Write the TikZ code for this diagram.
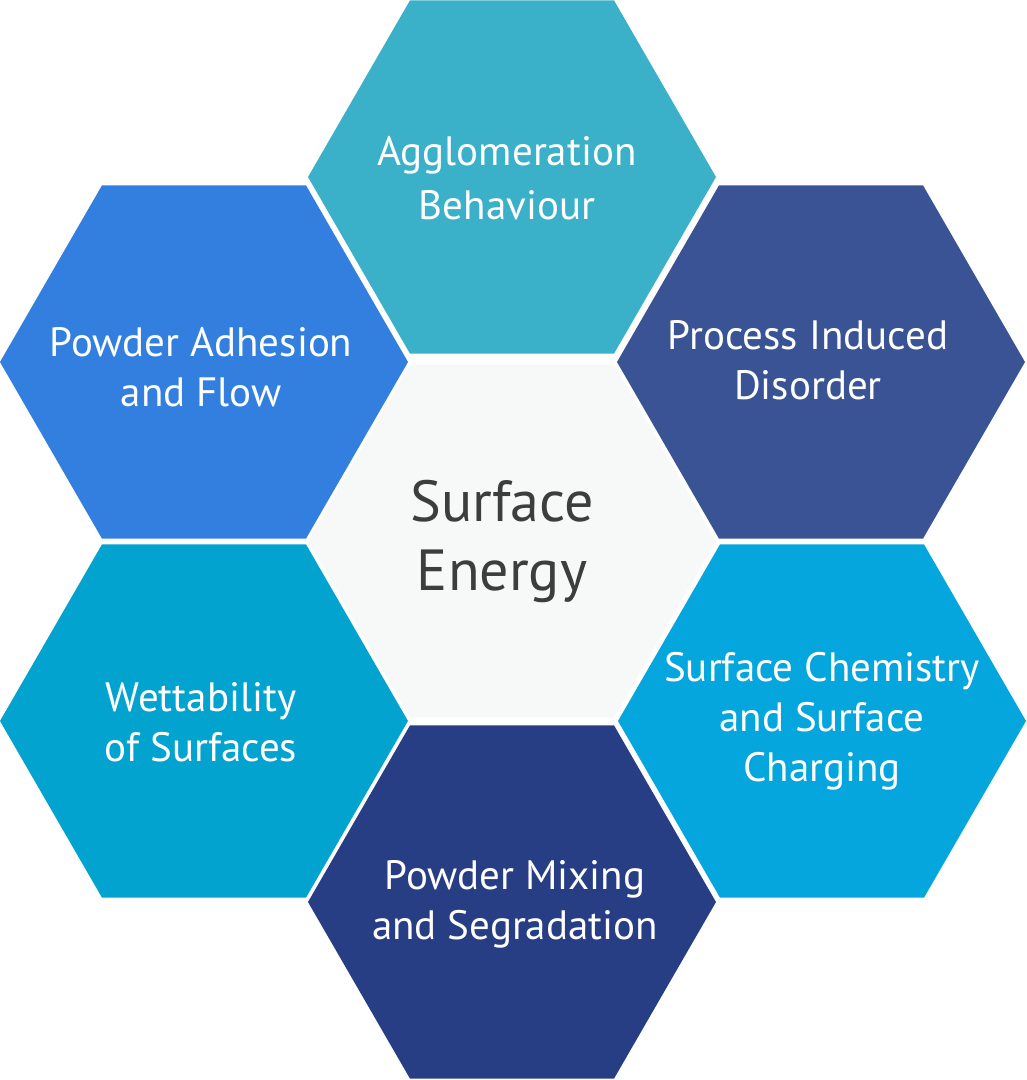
\documentclass[tikz,border=0pt]{standalone}
\usepackage{fontspec}
\setmainfont{PT Sans}
\usetikzlibrary{shapes.geometric}
\definecolor{agglo}{RGB}{59,176,201}
\definecolor{adhesion}{RGB}{50,127,224}
\definecolor{disorder}{RGB}{58,83,148}
\definecolor{energy}{RGB}{247,249,249}
\definecolor{wetting}{RGB}{2,163,207}
\definecolor{charging}{RGB}{4,166,221}
\definecolor{mixing}{RGB}{39,62,133}
\definecolor{energytext}{RGB}{61,61,61}
\tikzset{
  hex/.style={regular polygon, regular polygon sides=6, minimum size=408pt, inner sep=0pt},
  hextext/.style={align=center, text=white, font=\fontsize{41}{50}\selectfont},
}
\begin{document}
\begin{tikzpicture}[x=1pt,y=-1pt]
  \useasboundingbox (0,0) rectangle (1027,1080);
  % hexagon cells
  \node[hex, fill=energy] (energy) at (512,541) {};
  \node[hex, fill=agglo] (agglo) at (512,177) {};
  \node[hex, fill=adhesion] (adhesion) at (204,362) {};
  \node[hex, fill=disorder] (disorder) at (821,362) {};
  \node[hex, fill=wetting] (wetting) at (204,721) {};
  \node[hex, fill=charging] (charging) at (822,721) {};
  \node[hex, fill=mixing] (mixing) at (512,902) {};
  % labels
  \node[align=center, text=energytext, font=\fontsize{58}{69}\selectfont] (energy-text) at ([xshift=-10pt]energy) {Surface\\Energy};
  \node[hextext, font=\fontsize{41}{54}\selectfont] (agglo-text) at ([xshift=-5pt,yshift=-1pt]agglo) {Agglomeration\\Behaviour};
  \node[hextext] (adhesion-text) at ([xshift=-3pt,yshift=-5pt]adhesion) {Powder Adhesion\\and Flow};
  \node[hextext] (disorder-text) at ([xshift=-13pt,yshift=2pt]disorder) {Process Induced\\Disorder};
  \node[hextext] (wetting-text) at ([xshift=-3pt,yshift=-1pt]wetting) {Wettability\\of Surfaces};
  \node[hextext] (charging-text) at (charging) {Surface Chemistry\\and Surface\\Charging};
  \node[hextext] (mixing-text) at ([xshift=3pt,yshift=-2pt]mixing) {Powder Mixing\\and Segradation};
\end{tikzpicture}
\end{document}
